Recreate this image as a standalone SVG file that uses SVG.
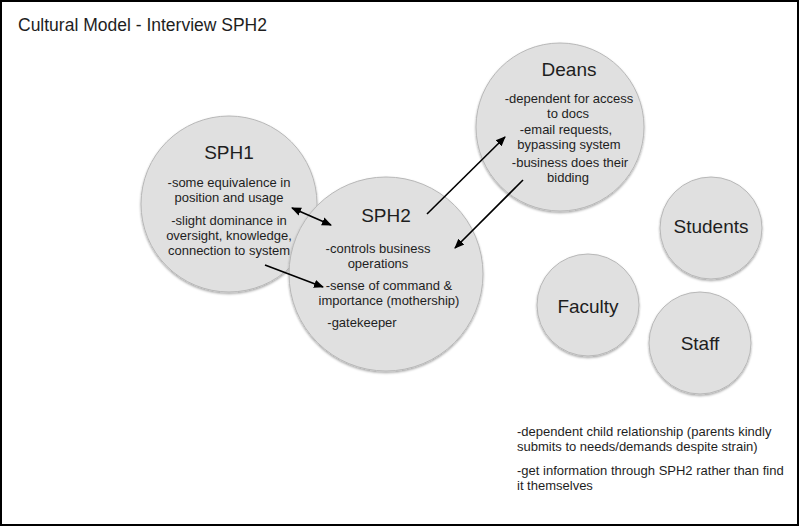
<svg xmlns="http://www.w3.org/2000/svg" width="800" height="527" viewBox="0 0 800 527">
<style>
  text { font-family: "Liberation Sans", Arial, sans-serif; fill: #1e1e1e; }
  .bubble { fill: #e0e0e0; stroke: #b8b8b8; stroke-width: 1; filter: url(#shadow); }
  .head { font-size: 19px; text-anchor: middle; }
  .small { font-size: 13px; text-anchor: middle; }
  .note { font-size: 13px; }
  .conn { stroke: #000; stroke-width: 1.6; fill: none; }
</style>
<defs>
  <filter id="shadow" x="-10%" y="-10%" width="120%" height="125%">
    <feDropShadow dx="0" dy="1.5" stdDeviation="1.2" flood-color="#000" flood-opacity="0.35"/>
  </filter>
  <marker id="ah" viewBox="0 0 10 10" refX="9" refY="5" markerWidth="10" markerHeight="10" markerUnits="userSpaceOnUse" orient="auto-start-reverse">
    <path d="M0,0.8 L10,5 L0,9.2 z" fill="#000"/>
  </marker>
</defs>
<rect x="1" y="1" width="797" height="524" fill="#fff" stroke="#000" stroke-width="2"/>
<text x="18" y="31" style="font-size:17.5px">Cultural Model - Interview SPH2</text>

<g id="sph1">
  <circle class="bubble" cx="229" cy="204" r="88"/>
  <text class="head" x="229" y="159">SPH1</text>
  <text class="small" x="229" y="187">-some equivalence in</text>
  <text class="small" x="229" y="202">position and usage</text>
  <text class="small" x="229" y="225">-slight dominance in</text>
  <text class="small" x="229" y="240">oversight, knowledge,</text>
  <text class="small" x="229" y="255">connection to system</text>
</g>

<g id="sph2">
  <circle class="bubble" cx="386" cy="274" r="97"/>
  <text class="head" x="386" y="222">SPH2</text>
  <text class="small" x="378" y="253">-controls business</text>
  <text class="small" x="378" y="268">operations</text>
  <text class="small" x="389" y="290">-sense of command &amp;</text>
  <text class="small" x="389" y="305">importance (mothership)</text>
  <text class="small" x="362" y="327">-gatekeeper</text>
</g>

<g id="deans">
  <circle class="bubble" cx="560" cy="127" r="84"/>
  <text class="head" x="569" y="76">Deans</text>
  <text class="small" x="569" y="103">-dependent for access</text>
  <text class="small" x="568" y="118">to docs</text>
  <text class="small" x="566" y="134">-email requests,</text>
  <text class="small" x="569" y="149">bypassing system</text>
  <text class="small" x="570" y="167">-business does their</text>
  <text class="small" x="568" y="182">bidding</text>
</g>

<g id="students">
  <circle class="bubble" cx="711" cy="228" r="51"/>
  <text class="head" x="711" y="233">Students</text>
</g>

<g id="faculty">
  <circle class="bubble" cx="588" cy="305" r="51"/>
  <text class="head" x="588" y="313">Faculty</text>
</g>

<g id="staff">
  <circle class="bubble" cx="700" cy="343" r="51"/>
  <text class="head" x="700" y="350">Staff</text>
</g>

<g id="notes">
  <text class="note" x="517" y="436">-dependent child relationship (parents kindly</text>
  <text class="note" x="517" y="451">submits to needs/demands despite strain)</text>
  <text class="note" x="517" y="475">-get information through SPH2 rather than find</text>
  <text class="note" x="517" y="490">it themselves</text>
</g>

<g id="connectors">
  <line class="conn" x1="292" y1="208" x2="331" y2="225" marker-start="url(#ah)" marker-end="url(#ah)"/>
  <line class="conn" x1="265" y1="265" x2="323" y2="287" marker-end="url(#ah)"/>
  <line class="conn" x1="427" y1="214" x2="505" y2="137" marker-end="url(#ah)"/>
  <line class="conn" x1="523" y1="180" x2="455" y2="248" marker-end="url(#ah)"/>
</g>
</svg>
